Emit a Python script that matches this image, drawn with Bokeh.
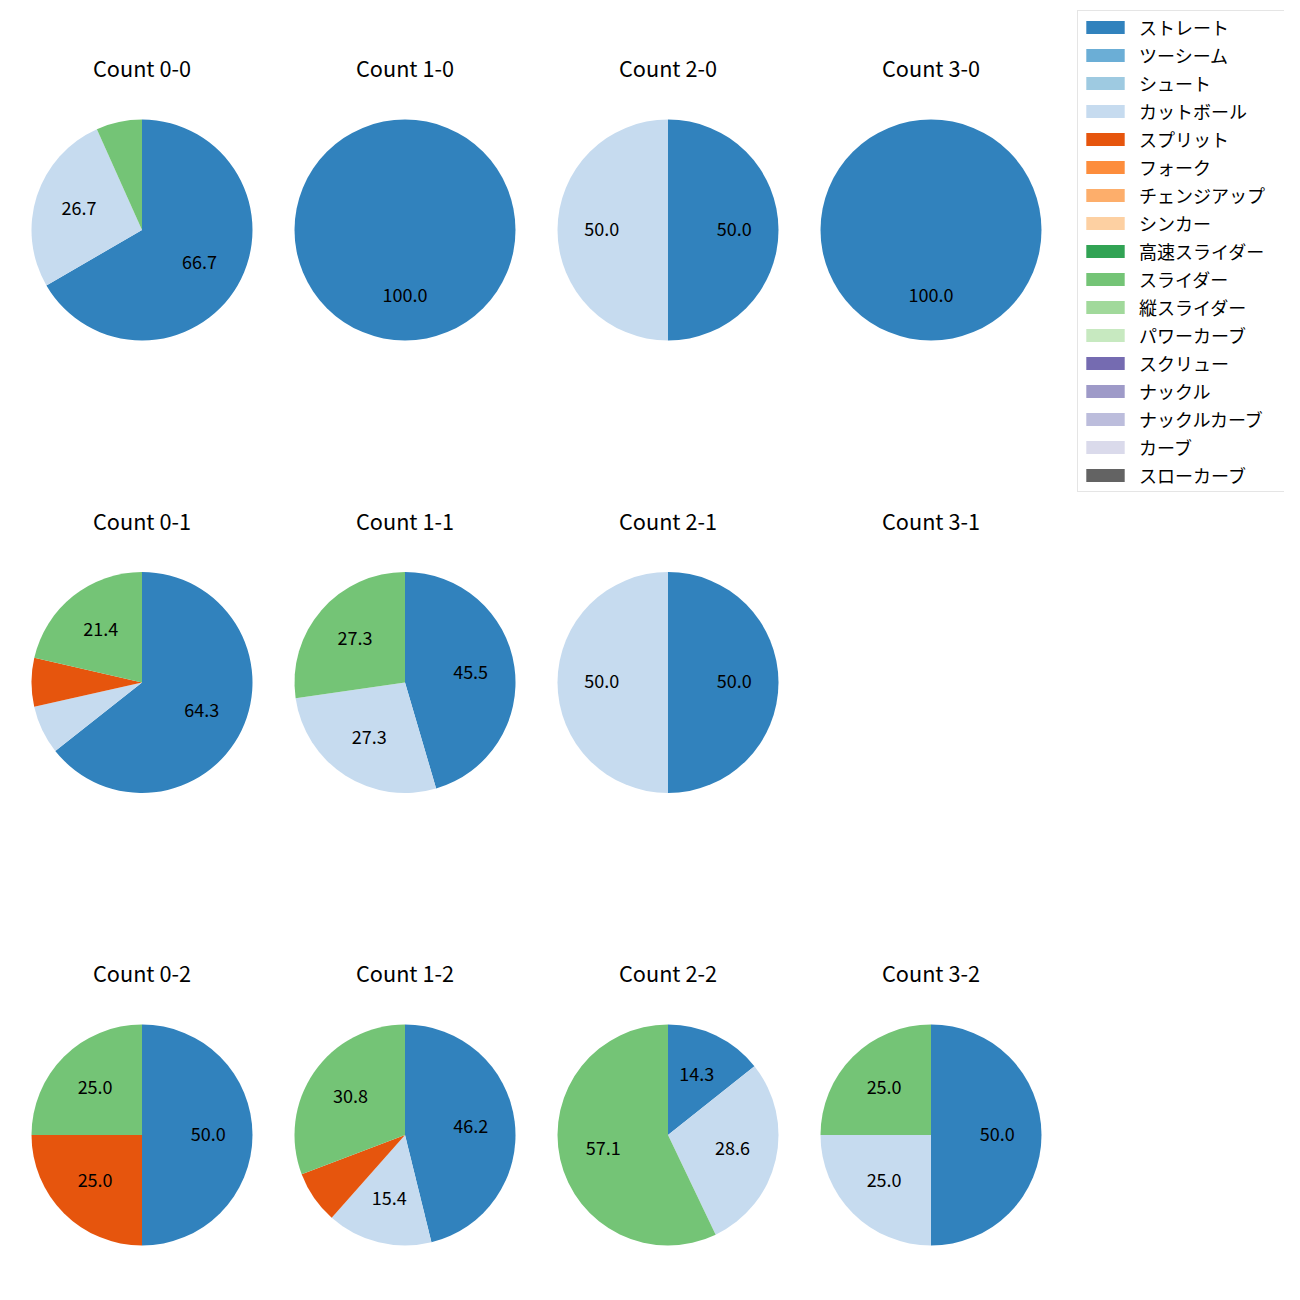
import math
from bokeh.plotting import figure
from bokeh.models import ColumnDataSource, Range1d, Legend, LegendItem
from bokeh.embed import file_html
from bokeh.resources import INLINE
from bokeh.core.properties import value

# ---------------- data ----------------
pitch_types = ["ストレート", "ツーシーム", "シュート", "カットボール", "スプリット", "フォーク",
               "チェンジアップ", "シンカー", "高速スライダー", "スライダー", "縦スライダー",
               "パワーカーブ", "スクリュー", "ナックル", "ナックルカーブ", "カーブ", "スローカーブ"]
pitch_colors = ["#3182bd", "#6baed6", "#9ecae1", "#c6dbef", "#e6550d", "#fd8d3c",
                "#fdae6b", "#fdd0a2", "#31a354", "#74c476", "#a1d99b",
                "#c7e9c0", "#756bb1", "#9e9ac8", "#bcbddc", "#dadaeb", "#636363"]

# count states, row by row (strikes 0..2), balls 0..3 across
count_labels = ["0-0", "1-0", "2-0", "3-0",
                "0-1", "1-1", "2-1", "3-1",
                "0-2", "1-2", "2-2", "3-2"]

# percentage of pitches per count state
straight = [66.7, 100.0, 50.0, 100.0, 64.3, 45.5, 50.0, 0.0, 50.0, 46.2, 14.3, 50.0]
cutter   = [26.7, 0.0, 50.0, 0.0, 7.1, 27.3, 50.0, 0.0, 0.0, 15.4, 28.6, 25.0]
splitter = [0.0, 0.0, 0.0, 0.0, 7.1, 0.0, 0.0, 0.0, 25.0, 7.7, 0.0, 0.0]
slider   = [6.7, 0.0, 0.0, 0.0, 21.4, 27.3, 0.0, 0.0, 25.0, 30.8, 57.1, 25.0]
zeros = [0.0] * 12

series = {name: zeros for name in pitch_types}
series["ストレート"] = straight
series["カットボール"] = cutter
series["スプリット"] = splitter
series["スライダー"] = slider

# ---------------- layout ----------------
W = H = 1284
FONT = "Noto Sans CJK JP"
R = 110.5
COL0, DCOL = 141.5, 263.0
ROW0, DROW = 229.5, 452.5
TITLE_OFF = 162.5
TEXT_NUDGE = 1.5
LABEL_THRESHOLD = 10.0

p = figure(width=W, height=H, x_range=Range1d(0, W), y_range=Range1d(0, H),
           output_backend="svg", toolbar_location=None,
           x_axis_type=None, y_axis_type=None, min_border=0,
           outline_line_color=None)

srcs = {name: dict(x=[], y=[], r=[], start=[], end=[]) for name in pitch_types}
lab = dict(x=[], y=[], text=[])
titles = dict(x=[], y=[], text=[])

for k, cl in enumerate(count_labels):
    i, j = divmod(k, 4)
    cx = COL0 + DCOL * j
    cy = H - (ROW0 + DROW * i)
    titles["x"].append(cx)
    titles["y"].append(cy + TITLE_OFF)
    titles["text"].append("Count " + cl)
    vals = [series[name][k] for name in pitch_types]
    total = sum(vals)
    if total <= 0:
        continue
    cum = 0.0
    for name, v in zip(pitch_types, vals):
        if v <= 0:
            continue
        f0 = cum / total
        cum += v
        f1 = cum / total
        a_start = math.radians(90 - 360 * f1)
        a_end = math.radians(90 - 360 * f0)
        s = srcs[name]
        if f1 - f0 > 0.999:
            # full circle: draw as two halves
            a_mid = (a_start + a_end) / 2
            pieces = ((a_start, a_mid), (a_mid, a_end))
        else:
            pieces = ((a_start, a_end),)
        for a0, a1 in pieces:
            s["x"].append(cx); s["y"].append(cy); s["r"].append(R)
            s["start"].append(a0); s["end"].append(a1)
        if v >= LABEL_THRESHOLD:
            mid = (a_start + a_end) / 2
            lab["x"].append(cx + 0.6 * R * math.cos(mid))
            lab["y"].append(cy + 0.6 * R * math.sin(mid) + TEXT_NUDGE)
            lab["text"].append("%.1f" % v)

# categories without any slice get an invisible (zero radius) placeholder for the legend
for name in pitch_types:
    s = srcs[name]
    if not s["x"]:
        s["x"].append(-1000.0); s["y"].append(-1000.0); s["r"].append(0.0)
        s["start"].append(0.0); s["end"].append(0.1)

items = []
for name, col in zip(pitch_types, pitch_colors):
    r = p.wedge(x="x", y="y", radius="r", start_angle="start", end_angle="end",
                source=ColumnDataSource(srcs[name]), fill_color=col, line_color=None)
    items.append(LegendItem(label=name, renderers=[r]))

p.text(x="x", y="y", text="text", source=ColumnDataSource(lab),
       text_font=value(FONT), text_font_size="18px", text_color="black",
       text_align="center", text_baseline="middle")
p.text(x="x", y="y", text="text", source=ColumnDataSource(titles),
       text_font=value(FONT), text_font_size="21.7px", text_color="black",
       text_align="center", text_baseline="middle")

legend = Legend(items=items, location=(1077, H - 492), margin=0, padding=3, spacing=2,
                glyph_width=48, glyph_height=16, label_standoff=10,
                label_height=20, label_width=142,
                label_text_font=FONT, label_text_font_size="18px",
                label_text_color="black",
                border_line_color="#cccccc", background_fill_alpha=0.8)
p.add_layout(legend)

open("out.html", "w").write(file_html(p, INLINE))
